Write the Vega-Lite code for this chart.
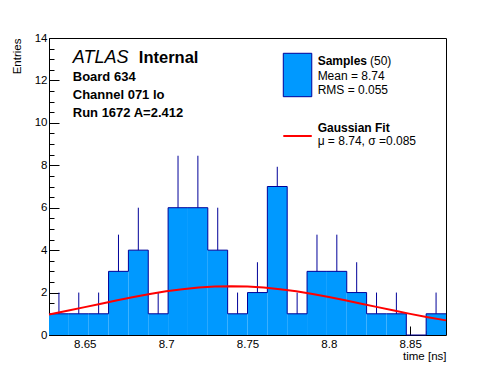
{
  "$schema": "https://vega.github.io/schema/vega-lite/v6.json",
  "width": 397,
  "height": 297,
  "autosize": {"type": "none"},
  "padding": {"left": 49, "top": 38, "right": 50, "bottom": 37},
  "background": "white",
  "config": {
    "view": {"stroke": "black", "strokeWidth": 1},
    "font": "Liberation Sans",
    "axis": {
      "domain": false,
      "grid": false,
      "tickColor": "black",
      "tickWidth": 1,
      "labelFont": "Liberation Sans",
      "labelFontSize": 11.5,
      "labelColor": "black",
      "titleFont": "Liberation Sans",
      "titleFontSize": 11.5,
      "titleFontWeight": "normal",
      "titleColor": "black"
    }
  },
  "datasets": {
    "hist": [
      {"lo": 8.628, "hi": 8.6402, "mid": 8.6341, "n": 1, "top": 2},
      {"lo": 8.6402, "hi": 8.6524, "mid": 8.6463, "n": 1, "top": 2},
      {"lo": 8.6524, "hi": 8.6646, "mid": 8.6585, "n": 1, "top": 2},
      {"lo": 8.6646, "hi": 8.6768, "mid": 8.6707, "n": 3, "top": 4.73},
      {"lo": 8.6768, "hi": 8.689, "mid": 8.6829, "n": 4, "top": 6},
      {"lo": 8.689, "hi": 8.7012, "mid": 8.6951, "n": 1, "top": 2},
      {"lo": 8.7012, "hi": 8.7134, "mid": 8.7073, "n": 6, "top": 8.45},
      {"lo": 8.7134, "hi": 8.7256, "mid": 8.7195, "n": 6, "top": 8.45},
      {"lo": 8.7256, "hi": 8.7378, "mid": 8.7317, "n": 4, "top": 6},
      {"lo": 8.7378, "hi": 8.75, "mid": 8.7439, "n": 1, "top": 2},
      {"lo": 8.75, "hi": 8.7622, "mid": 8.7561, "n": 2, "top": 3.43},
      {"lo": 8.7622, "hi": 8.7744, "mid": 8.7683, "n": 7, "top": 7.93},
      {"lo": 8.7744, "hi": 8.7866, "mid": 8.7805, "n": 1, "top": 2},
      {"lo": 8.7866, "hi": 8.7988, "mid": 8.7927, "n": 3, "top": 4.73},
      {"lo": 8.7988, "hi": 8.811, "mid": 8.8049, "n": 3, "top": 4.73},
      {"lo": 8.811, "hi": 8.8232, "mid": 8.8171, "n": 2, "top": 3.43},
      {"lo": 8.8232, "hi": 8.8354, "mid": 8.8293, "n": 1, "top": 2},
      {"lo": 8.8354, "hi": 8.8476, "mid": 8.8415, "n": 1, "top": 2},
      {"lo": 8.8476, "hi": 8.8598, "mid": 8.8537, "n": 0, "top": 0},
      {"lo": 8.8598, "hi": 8.872, "mid": 8.8659, "n": 1, "top": 2}
    ],
    "edges": [
      {"x": 8.628, "n": 1}, {"x": 8.6402, "n": 1}, {"x": 8.6524, "n": 1},
      {"x": 8.6646, "n": 3}, {"x": 8.6768, "n": 4}, {"x": 8.689, "n": 1},
      {"x": 8.7012, "n": 6}, {"x": 8.7134, "n": 6}, {"x": 8.7256, "n": 4},
      {"x": 8.7378, "n": 1}, {"x": 8.75, "n": 2}, {"x": 8.7622, "n": 7},
      {"x": 8.7744, "n": 1}, {"x": 8.7866, "n": 3}, {"x": 8.7988, "n": 3},
      {"x": 8.811, "n": 2}, {"x": 8.8232, "n": 1}, {"x": 8.8354, "n": 1},
      {"x": 8.8476, "n": 0}, {"x": 8.8598, "n": 1}, {"x": 8.872, "n": 1}
    ],
    "fit": [
      {"t": 8.628, "f": 0.966}, {"t": 8.64, "f": 1.151}, {"t": 8.65, "f": 1.313},
      {"t": 8.66, "f": 1.477}, {"t": 8.67, "f": 1.638}, {"t": 8.68, "f": 1.793},
      {"t": 8.69, "f": 1.935}, {"t": 8.7, "f": 2.059}, {"t": 8.71, "f": 2.161},
      {"t": 8.72, "f": 2.237}, {"t": 8.73, "f": 2.284}, {"t": 8.74, "f": 2.3},
      {"t": 8.75, "f": 2.284}, {"t": 8.76, "f": 2.237}, {"t": 8.77, "f": 2.161},
      {"t": 8.78, "f": 2.059}, {"t": 8.79, "f": 1.935}, {"t": 8.8, "f": 1.793},
      {"t": 8.81, "f": 1.638}, {"t": 8.82, "f": 1.477}, {"t": 8.83, "f": 1.313},
      {"t": 8.84, "f": 1.151}, {"t": 8.85, "f": 0.995}, {"t": 8.86, "f": 0.849},
      {"t": 8.872, "f": 0.689}
    ]
  },
  "layer": [
    {
      "data": {"name": "hist"},
      "mark": {"type": "rect", "fill": "#0099ff", "stroke": null},
      "encoding": {
        "x": {
          "field": "lo", "type": "quantitative",
          "scale": {"domain": [8.628, 8.872], "nice": false, "zero": false},
          "axis": {
            "orient": "bottom",
            "values": [8.63, 8.64, 8.65, 8.66, 8.67, 8.68, 8.69, 8.7, 8.71, 8.72, 8.73, 8.74, 8.75, 8.76, 8.77, 8.78, 8.79, 8.8, 8.81, 8.82, 8.83, 8.84, 8.85, 8.86, 8.87],
            "labels": false, "tickSize": -4.5, "title": null
          }
        },
        "x2": {"field": "hi"},
        "y": {
          "field": "n", "type": "quantitative",
          "scale": {"domain": [0, 14], "nice": false},
          "axis": {
            "orient": "left",
            "values": [0, 0.5, 1, 1.5, 2, 2.5, 3, 3.5, 4, 4.5, 5, 5.5, 6, 6.5, 7, 7.5, 8, 8.5, 9, 9.5, 10, 10.5, 11, 11.5, 12, 12.5, 13, 13.5, 14],
            "labels": false, "tickSize": -5, "title": null
          }
        },
        "y2": {"datum": 0}
      }
    },
    {
      "data": {"name": "edges"},
      "mark": {"type": "line", "interpolate": "step-after", "color": "#000099", "strokeWidth": 1},
      "encoding": {
        "x": {
          "field": "x", "type": "quantitative",
          "axis": {
            "orient": "bottom",
            "values": [8.65, 8.7, 8.75, 8.8, 8.85],
            "format": "~g",
            "tickSize": -9,
            "labelPadding": 12,
            "title": "time [ns]",
            "titleX": 397, "titleY": 24,
            "titleAlign": "right", "titleAnchor": null, "titleBaseline": "alphabetic"
          }
        },
        "y": {
          "field": "n", "type": "quantitative",
          "axis": {
            "orient": "left",
            "values": [0, 2, 4, 6, 8, 10, 12, 14],
            "format": "d",
            "tickSize": -10,
            "labelPadding": 12,
            "title": "Entries",
            "titleAngle": 270,
            "titleX": -32, "titleY": 0,
            "titleAlign": "right", "titleAnchor": null, "titleBaseline": "middle"
          }
        }
      }
    },
    {
      "data": {"name": "hist"},
      "mark": {"type": "rule", "color": "#000099", "strokeWidth": 1},
      "encoding": {
        "x": {"field": "mid", "type": "quantitative", "axis": null},
        "y": {"field": "n", "type": "quantitative", "axis": null},
        "y2": {"field": "top"}
      }
    },
    {
      "data": {"name": "fit"},
      "mark": {"type": "line", "color": "#ff0000", "strokeWidth": 2},
      "encoding": {
        "x": {"field": "t", "type": "quantitative", "axis": null},
        "y": {"field": "f", "type": "quantitative", "axis": null}
      }
    },
    {
      "data": {"values": [{}]},
      "mark": {"type": "text", "text": "ATLAS", "font": "Liberation Sans", "fontStyle": "italic", "fontSize": 18, "align": "left", "baseline": "alphabetic", "color": "black"},
      "encoding": {"x": {"datum": 8.6426, "type": "quantitative", "axis": null}, "y": {"datum": 12.845, "type": "quantitative", "axis": null}}
    },
    {
      "data": {"values": [{}]},
      "mark": {"type": "text", "text": "Internal", "font": "Liberation Sans", "fontWeight": "bold", "fontSize": 16.5, "align": "left", "baseline": "alphabetic", "color": "black"},
      "encoding": {"x": {"datum": 8.6832, "type": "quantitative", "axis": null}, "y": {"datum": 12.845, "type": "quantitative", "axis": null}}
    },
    {
      "data": {"values": [{}]},
      "mark": {"type": "text", "text": ["Board 634", "Channel 071 lo", "Run 1672 A=2.412"], "lineHeight": 18.3, "font": "Liberation Sans", "fontWeight": "bold", "fontSize": 13, "align": "left", "baseline": "alphabetic", "color": "black"},
      "encoding": {"x": {"datum": 8.6426, "type": "quantitative", "axis": null}, "y": {"datum": 11.987, "type": "quantitative", "axis": null}}
    },
    {
      "data": {"values": [{}]},
      "mark": {"type": "rect", "fill": "#0099ff", "stroke": "#000099", "strokeWidth": 1},
      "encoding": {
        "x": {"datum": 8.772, "type": "quantitative", "axis": null},
        "x2": {"datum": 8.7895},
        "y": {"datum": 13.279, "type": "quantitative", "axis": null},
        "y2": {"datum": 11.233}
      }
    },
    {
      "data": {"values": [{}]},
      "mark": {"type": "rule", "color": "#ff0000", "strokeWidth": 2},
      "encoding": {
        "x": {"datum": 8.772, "type": "quantitative", "axis": null},
        "x2": {"datum": 8.7895},
        "y": {"datum": 9.381, "type": "quantitative", "axis": null}
      }
    },
    {
      "data": {"values": [{}]},
      "mark": {"type": "text", "text": "Samples", "font": "Liberation Sans", "fontWeight": "bold", "fontSize": 12, "align": "left", "baseline": "alphabetic", "color": "black"},
      "encoding": {"x": {"datum": 8.7931, "type": "quantitative", "axis": null}, "y": {"datum": 12.727, "type": "quantitative", "axis": null}}
    },
    {
      "data": {"values": [{}]},
      "mark": {"type": "text", "text": "(50)", "font": "Liberation Sans", "fontSize": 12, "align": "left", "baseline": "alphabetic", "color": "black"},
      "encoding": {"x": {"datum": 8.8253, "type": "quantitative", "axis": null}, "y": {"datum": 12.727, "type": "quantitative", "axis": null}}
    },
    {
      "data": {"values": [{}]},
      "mark": {"type": "text", "text": ["Mean = 8.74", "RMS = 0.055"], "lineHeight": 14.3, "font": "Liberation Sans", "fontSize": 12, "align": "left", "baseline": "alphabetic", "color": "black"},
      "encoding": {"x": {"datum": 8.7931, "type": "quantitative", "axis": null}, "y": {"datum": 12.02, "type": "quantitative", "axis": null}}
    },
    {
      "data": {"values": [{}]},
      "mark": {"type": "text", "text": "Gaussian Fit", "font": "Liberation Sans", "fontWeight": "bold", "fontSize": 12, "align": "left", "baseline": "alphabetic", "color": "black"},
      "encoding": {"x": {"datum": 8.7931, "type": "quantitative", "axis": null}, "y": {"datum": 9.57, "type": "quantitative", "axis": null}}
    },
    {
      "data": {"values": [{}]},
      "mark": {"type": "text", "text": "μ = 8.74, σ =0.085", "font": "Liberation Sans", "fontSize": 12, "align": "left", "baseline": "alphabetic", "color": "black"},
      "encoding": {"x": {"datum": 8.7931, "type": "quantitative", "axis": null}, "y": {"datum": 8.95, "type": "quantitative", "axis": null}}
    }
  ],
  "resolve": {"axis": {"x": "independent", "y": "independent"}}
}
